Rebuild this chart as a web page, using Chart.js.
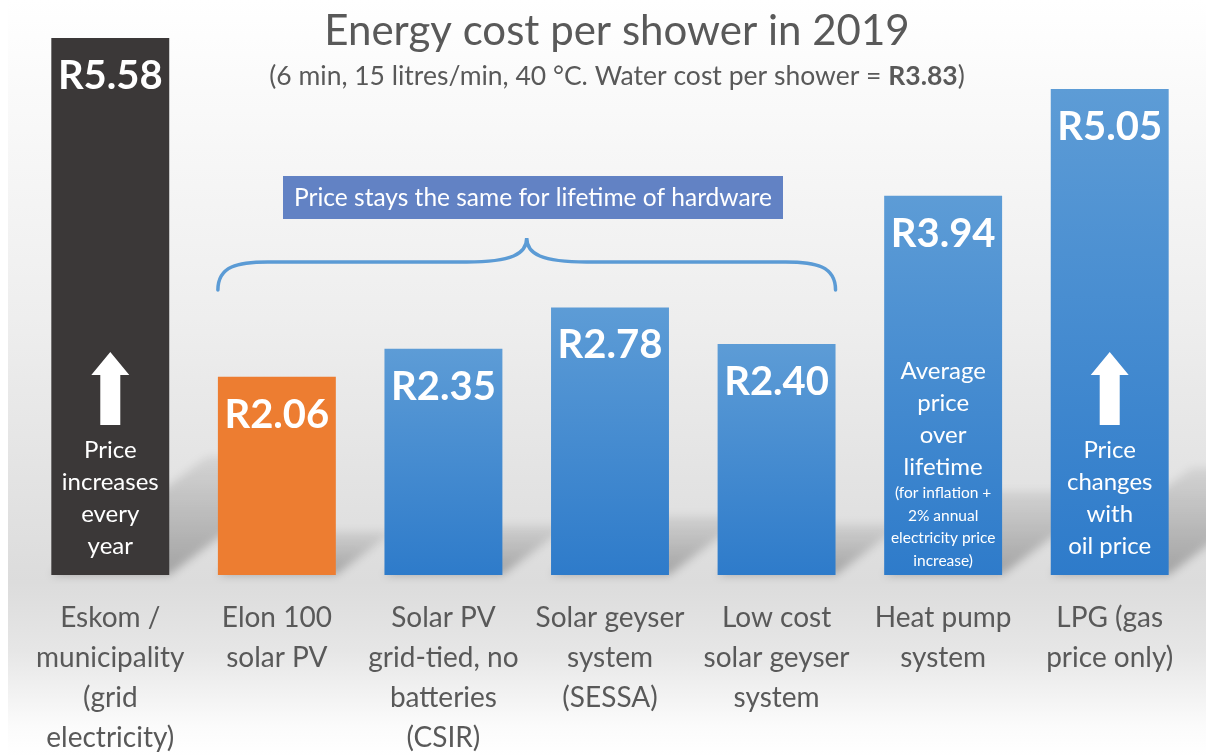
<!DOCTYPE html>
<html>
<head>
<meta charset="utf-8">
<script src="https://cdn.jsdelivr.net/npm/chart.js@4.4.1/dist/chart.umd.min.js"></script>
<style>
  html, body { margin: 0; padding: 0; background: #fff; }
  #wrap { width: 1206px; height: 756px; position: relative; }
</style>
</head>
<body>
<div id="wrap"><canvas id="chart"></canvas></div>
<script>
// data
const categories = [
  ["Eskom /", "municipality", "(grid", "electricity)"],
  ["Elon 100", "solar PV"],
  ["Solar PV", "grid-tied, no", "batteries", "(CSIR)"],
  ["Solar geyser", "system", "(SESSA)"],
  ["Low cost", "solar geyser", "system"],
  ["Heat pump", "system"],
  ["LPG (gas", "price only)"]
];
const costs = [5.58, 2.06, 2.35, 2.78, 2.40, 3.94, 5.05];
const valueLabels = ["R5.58", "R2.06", "R2.35", "R2.78", "R2.40", "R3.94", "R5.05"];
const barColors = ["#3B3838", "#ED7D31", null, null, null, null, null]; // null = blue gradient

const titleText = "Energy cost per shower in 2019";
const subtitleParts = [
  { text: "(6 min, 15 litres/min, 40 \u00B0C. Water cost per shower = ", bold: false },
  { text: "R3.83", bold: true },
  { text: ")", bold: false }
];
const calloutText = "Price stays the same for lifetime of hardware";
const calloutFrom = 1, calloutTo = 4;

// notes drawn inside some bars
const barNotes = [
  { index: 0, arrow: true, lines: ["Price", "increases", "every", "year"], small: [] },
  { index: 5, arrow: false, lines: ["Average", "price", "over", "lifetime"],
    small: ["(for inflation +", "2% annual", "electricity price", "increase)"] },
  { index: 6, arrow: true, lines: ["Price", "changes", "with", "oil price"], small: [] }
];

const FONT = "Lato, 'Open Sans', sans-serif";
const TEXT_GREY = "#595959";

const backgroundPlugin = {
  id: "bg",
  beforeDraw(chart) {
    const { ctx, width, height } = chart;
    ctx.save();
    ctx.fillStyle = "#ffffff";
    ctx.fillRect(0, 0, width, height);
    const g = ctx.createLinearGradient(0, 0, 0, height);
    g.addColorStop(0, "#ffffff");
    g.addColorStop(0.12, "#fafafa");
    g.addColorStop(0.42, "#eeeeee");
    g.addColorStop(0.77, "#dcdcdc");
    g.addColorStop(0.86, "#e6e6e6");
    g.addColorStop(0.96, "#fbfbfb");
    g.addColorStop(1, "#ffffff");
    ctx.fillStyle = g;
    ctx.fillRect(8, 0, width - 8, height);
    ctx.restore();
  }
};

const shadowPlugin = {
  id: "barShadows",
  beforeDatasetsDraw(chart) {
    const { ctx } = chart;
    const meta = chart.getDatasetMeta(0);
    ctx.save();
    ctx.filter = "blur(4px)";
    meta.data.forEach(el => {
      const w = el.width;
      const left = el.x - w / 2, right = el.x + w / 2;
      const h = el.base - el.y;
      const dx = 0.29 * h, dy = 0.22 * h;
      const g = ctx.createLinearGradient(0, el.base, 0, el.base - dy);
      g.addColorStop(0, "rgba(0,0,0,0.26)");
      g.addColorStop(1, "rgba(0,0,0,0.07)");
      ctx.fillStyle = g;
      ctx.beginPath();
      ctx.moveTo(left, el.base);
      ctx.lineTo(right, el.base);
      ctx.lineTo(right + dx, el.base - dy);
      ctx.lineTo(left + dx, el.base - dy);
      ctx.closePath();
      ctx.fill();
    });
    ctx.restore();
  }
};

function drawArrow(ctx, x, top) {
  ctx.fillStyle = "#ffffff";
  ctx.beginPath();
  ctx.moveTo(x, top);
  ctx.lineTo(x + 19, top + 23);
  ctx.lineTo(x + 10, top + 23);
  ctx.lineTo(x + 10, top + 73);
  ctx.lineTo(x - 10, top + 73);
  ctx.lineTo(x - 10, top + 23);
  ctx.lineTo(x - 19, top + 23);
  ctx.closePath();
  ctx.fill();
}

const textPlugin = {
  id: "texts",
  afterDatasetsDraw(chart) {
    const { ctx, chartArea } = chart;
    const meta = chart.getDatasetMeta(0);
    const bottom = chartArea.bottom;
    ctx.save();
    ctx.textAlign = "center";
    ctx.textBaseline = "middle";

    // values at top of bars
    ctx.fillStyle = "#ffffff";
    ctx.font = "bold 40px " + FONT;
    meta.data.forEach((el, i) => {
      ctx.fillText(valueLabels[i], el.x, el.y + 38);
    });

    // notes inside bars
    barNotes.forEach(n => {
      const el = meta.data[n.index];
      if (n.arrow) drawArrow(ctx, el.x, bottom - 223);
      ctx.fillStyle = "#ffffff";
      ctx.font = "24px " + FONT;
      const bigStart = n.small.length ? bottom - 204 : bottom - 125;
      n.lines.forEach((t, k) => ctx.fillText(t, el.x, bigStart + k * 32));
      ctx.font = "15.5px " + FONT;
      n.small.forEach((t, k) => ctx.fillText(t, el.x, bottom - 82 + k * 22.5));
    });

    // brace + callout
    const a = meta.data[calloutFrom], b = meta.data[calloutTo];
    const x0 = a.x - a.width / 2, x1 = b.x + b.width / 2;
    const mid = (x0 + x1) / 2;
    const yEnd = 290, yFlat = 262, yPeak = 238;
    ctx.strokeStyle = "#5B9BD5";
    ctx.lineWidth = 3.5;
    ctx.lineCap = "round";
    ctx.beginPath();
    ctx.moveTo(x0, yEnd);
    ctx.bezierCurveTo(x0, yFlat + 4, x0 + 20, yFlat, x0 + 50, yFlat);
    ctx.lineTo(mid - 60, yFlat);
    ctx.bezierCurveTo(mid - 15, yFlat, mid, yFlat - 8, mid, yPeak);
    ctx.bezierCurveTo(mid, yFlat - 8, mid + 15, yFlat, mid + 60, yFlat);
    ctx.lineTo(x1 - 50, yFlat);
    ctx.bezierCurveTo(x1 - 20, yFlat, x1, yFlat + 4, x1, yEnd);
    ctx.stroke();

    ctx.font = "24.5px " + FONT;
    const bx0 = 283, bx1 = 783;
    ctx.fillStyle = "#6282C4";
    ctx.fillRect(bx0, 176, bx1 - bx0, 43);
    ctx.fillStyle = "#ffffff";
    ctx.fillText(calloutText, (bx0 + bx1) / 2, 198);

    // title
    ctx.fillStyle = TEXT_GREY;
    ctx.font = "42px " + FONT;
    ctx.fillText(titleText, 617, 31);

    // subtitle with bold part
    const fonts = { false: "26.5px " + FONT, true: "bold 26.5px " + FONT };
    let total = 0;
    subtitleParts.forEach(p => { ctx.font = fonts[p.bold]; total += ctx.measureText(p.text).width; });
    let sx = 617 - total / 2;
    ctx.textAlign = "left";
    subtitleParts.forEach(p => {
      ctx.font = fonts[p.bold];
      ctx.fillText(p.text, sx, 76);
      sx += ctx.measureText(p.text).width;
    });
    ctx.restore();
  }
};

const blueFill = ctx => {
  const i = ctx.dataIndex;
  if (barColors[i]) return barColors[i];
  const chart = ctx.chart;
  const { chartArea, scales } = chart;
  if (!chartArea) return "#5B9BD5";
  const top = scales.y.getPixelForValue(costs[i]);
  const g = chart.ctx.createLinearGradient(0, top, 0, chartArea.bottom);
  g.addColorStop(0, "#5D9CD6");
  g.addColorStop(1, "#2E7BCA");
  return g;
};

new Chart(document.getElementById("chart"), {
  type: "bar",
  data: {
    labels: categories,
    datasets: [{
      data: costs,
      backgroundColor: blueFill,
      borderWidth: 0,
      categoryPercentage: 1,
      barPercentage: 0.708
    }]
  },
  options: {
    responsive: true,
    maintainAspectRatio: false,
    animation: false,
    devicePixelRatio: 1,
    layout: { padding: { left: 27, right: 13, top: 38, bottom: 0 } },
    plugins: { legend: { display: false }, tooltip: { enabled: false }, title: { display: false } },
    scales: {
      x: {
        grid: { display: false, drawTicks: false },
        border: { display: false },
        ticks: {
          color: TEXT_GREY,
          font: { family: FONT, size: 28, lineHeight: 40 / 28 },
          padding: 23,
          maxRotation: 0,
          autoSkip: false
        },
        afterFit(scale) { scale.height = 181; }
      },
      y: {
        display: false,
        min: 0,
        max: 5.58
      }
    }
  },
  plugins: [backgroundPlugin, shadowPlugin, textPlugin]
});
</script>
</body>
</html>
